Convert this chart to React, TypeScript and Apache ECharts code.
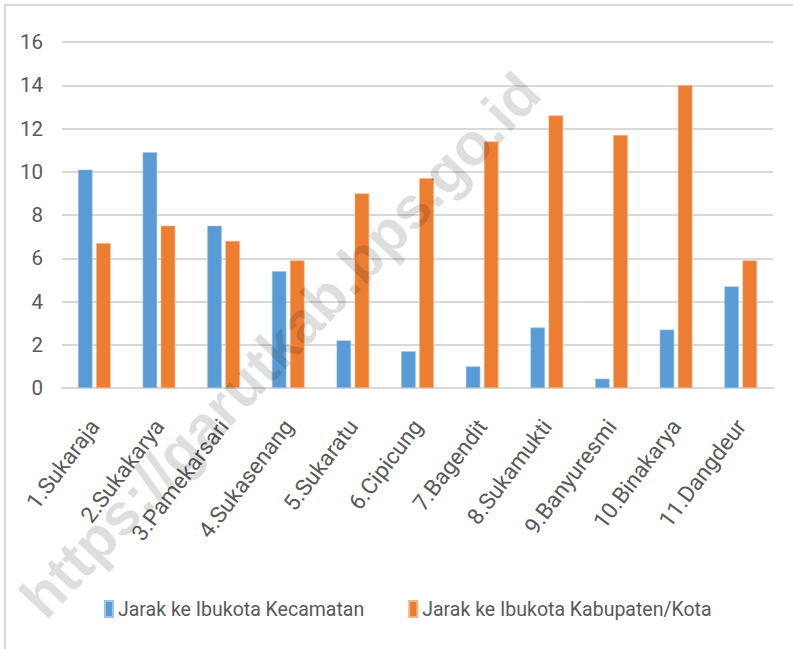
import React, { useEffect, useRef } from "react";
import * as echarts from "echarts";

const categories = [
  "1.Sukaraja",
  "2.Sukakarya",
  "3.Pamekarsari",
  "4.Sukasenang",
  "5.Sukaratu",
  "6.Cipicung",
  "7.Bagendit",
  "8.Sukamukti",
  "9.Banyuresmi",
  "10.Binakarya",
  "11.Dangdeur",
];
const seriesNames = ["Jarak ke Ibukota Kecamatan", "Jarak ke Ibukota Kabupaten/Kota"];
const jarakKecamatan = [10.1, 10.9, 7.5, 5.4, 2.2, 1.7, 1.0, 2.8, 0.43, 2.7, 4.7];
const jarakKabupaten = [6.7, 7.5, 6.8, 5.9, 9.0, 9.7, 11.4, 12.6, 11.7, 14.0, 5.9];
const watermarkText = "https://garutkab.bps.go.id";

const FONT = "Roboto, 'Open Sans', sans-serif";
const TEXT = "#595959";
const GRID = "#D9D9D9";

export default function App() {
  const ref = useRef<HTMLDivElement>(null);
  useEffect(() => {
    if (!ref.current) return;
    const chart = echarts.init(ref.current, undefined, { renderer: "svg" });
    chart.setOption({
      animation: false,
      backgroundColor: "#ffffff",
      grid: { left: 62, right: 20, top: 42, bottom: 261, containLabel: false, outerBoundsMode: "none" },
      legend: {
        left: 99,
        top: 594,
        itemWidth: 8,
        itemHeight: 16,
        itemGap: 44,
        icon: "rect",
        textStyle: { color: TEXT, fontSize: 19.5, fontFamily: FONT },
        data: seriesNames,
      },
      xAxis: {
        type: "category",
        data: categories,
        axisLine: { lineStyle: { color: GRID, width: 2 } },
        axisTick: { show: false },
        axisLabel: {
          rotate: 53,
          margin: 34,
          interval: 0,
          color: TEXT,
          fontSize: 22.5,
          fontFamily: FONT,
        },
      },
      yAxis: {
        type: "value",
        min: 0,
        max: 16,
        interval: 2,
        axisLine: { show: false },
        axisTick: { show: false },
        splitLine: { lineStyle: { color: GRID, width: 2 } },
        axisLabel: { color: TEXT, fontSize: 20.5, fontFamily: FONT, margin: 19 },
      },
      series: [
        {
          name: seriesNames[0],
          type: "bar",
          data: jarakKecamatan,
          barWidth: 14.5,
          barGap: "25%",
          itemStyle: { color: "#5B9BD5", borderColor: "#9DC3E6", borderWidth: 0.6 },
        },
        {
          name: seriesNames[1],
          type: "bar",
          data: jarakKabupaten,
          barWidth: 14.5,
          itemStyle: { color: "#ED7D31", borderColor: "#F4B183", borderWidth: 0.6 },
        },
      ],
      graphic: [
        {
          type: "rect",
          shape: { x: 5, y: 5, width: 820, height: 680 },
          style: { fill: "none", stroke: "#D9D9D9", lineWidth: 2 },
          silent: true,
          z: 100,
        },
        {
          type: "text",
          x: 280,
          y: 345,
          rotation: (46.5 * Math.PI) / 180,
          silent: true,
          z: 100,
          style: {
            text: watermarkText,
            fontSize: 59,
            fontWeight: "bold",
            fontFamily: "'Liberation Sans', Arial, sans-serif",
            fill: "rgba(0,0,0,0.13)",
            textAlign: "center",
            textVerticalAlign: "middle",
          },
        },
      ],
    });
    return () => chart.dispose();
  }, []);
  return (
    <div
      ref={ref}
      style={{ position: "fixed", left: 0, top: 0, width: 793, height: 649 }}
    />
  );
}
